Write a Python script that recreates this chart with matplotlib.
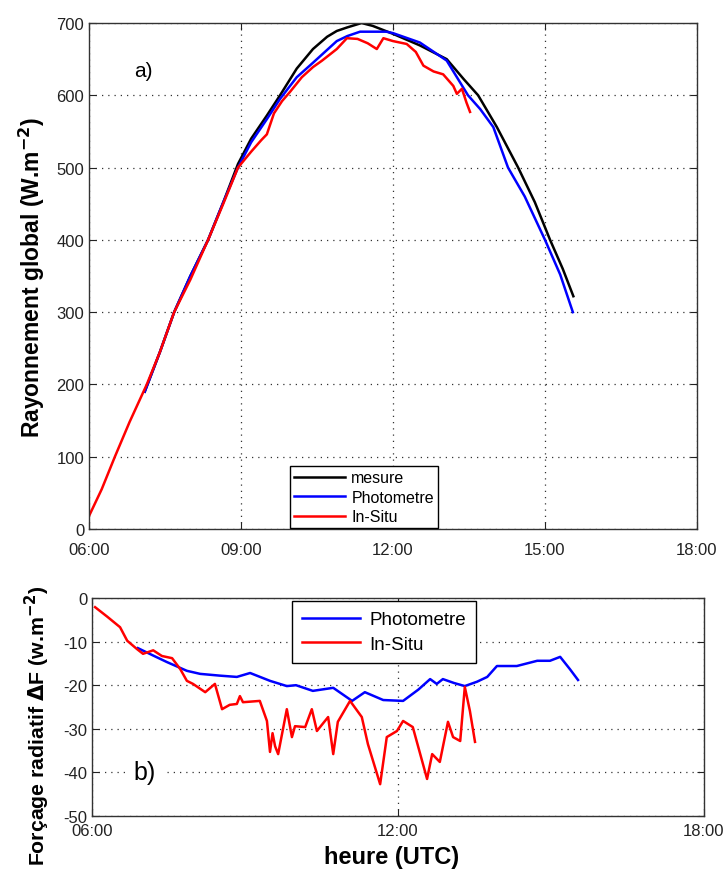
import numpy as np
import matplotlib
matplotlib.use('Agg')
import matplotlib.pyplot as plt

plt.rcParams['font.family'] = ['Liberation Sans', 'DejaVu Sans']
plt.rcParams['axes.unicode_minus'] = False

# ---- panel a) global irradiance (W.m-2), time in decimal hours UTC ----
mes_t = [7.1, 7.4, 7.68, 8.0, 8.35, 8.65, 8.94, 9.2, 9.51, 9.77, 10.1, 10.42, 10.7, 10.89,
         11.1, 11.38, 11.6, 12.0, 12.53, 13.06, 13.4, 13.68, 14.05, 14.47, 14.8, 15.1,
         15.35, 15.56]
mes_v = [190, 245, 300, 350, 400, 452, 505, 540, 572, 600, 637, 664, 681, 689,
         694, 700, 696, 685, 669, 650, 622, 600, 556, 500, 452, 400,
         360, 322]

pho_t = [7.1, 7.4, 7.68, 8.0, 8.35, 8.65, 8.94, 9.2, 9.51, 9.77, 10.1, 10.42, 10.89, 11.1,
         11.35, 11.87, 12.0, 12.53, 13.06, 13.48, 13.72, 13.98, 14.27, 14.6, 15.0, 15.3,
         15.55]
pho_v = [190, 245, 300, 350, 400, 452, 500, 535, 567, 595, 625, 645, 675, 682,
         688, 688, 686, 673, 648, 600, 581, 556, 500, 460, 400, 352,
         300]

ins_t = [6.0, 6.25, 6.51, 6.8, 7.14, 7.4, 7.68, 8.0, 8.35, 8.65, 8.94, 9.2, 9.4, 9.51,
         9.65, 9.81, 9.97, 10.2, 10.42, 10.6, 10.89, 11.09, 11.3, 11.5, 11.68, 11.81,
         12.0, 12.27, 12.45, 12.6, 12.8, 12.99, 13.19, 13.26, 13.36, 13.45, 13.52]
ins_v = [18, 55, 100, 148, 200, 245, 300, 345, 400, 450, 500, 522, 538, 546,
         575, 592, 605, 625, 639, 648, 664, 679, 678, 672, 664, 679,
         675, 671, 660, 641, 633, 629, 613, 602, 609, 590, 577]

# ---- panel b) radiative forcing (W.m-2) ----
phb_t = [6.9, 7.2, 7.47, 7.86, 8.12, 8.5, 8.84, 9.1, 9.49, 9.82, 10.0, 10.33, 10.73, 11.1,
         11.35, 11.71, 12.1, 12.4, 12.63, 12.76, 12.88, 13.1, 13.31, 13.55, 13.75, 13.94,
         14.33, 14.73, 14.98, 15.18, 15.37, 15.53]
phb_v = [-11.5, -13.2, -14.7, -16.7, -17.4, -17.8, -18.1, -17.2, -19.0, -20.2, -20.0, -21.3,
         -20.6, -23.6, -21.6, -23.4, -23.6, -21.0, -18.6, -19.7, -18.6, -19.5, -20.2, -19.2,
         -18.1, -15.6, -15.6, -14.4, -14.4, -13.5, -16.3, -18.8]

inb_t = [6.06, 6.3, 6.55, 6.69, 6.88, 7.0, 7.2, 7.37, 7.57, 7.73, 7.86, 7.98, 8.22, 8.41,
         8.55, 8.7, 8.84, 8.9, 8.96, 9.29, 9.43, 9.49, 9.54, 9.59, 9.65, 9.82, 9.92, 9.98,
         10.18, 10.31, 10.41, 10.63, 10.73, 10.82, 11.06, 11.29, 11.41, 11.65, 11.78,
         11.98, 12.1, 12.29, 12.57, 12.67, 12.82, 12.98, 13.08, 13.22, 13.31, 13.41, 13.51]
inb_v = [-2.1, -4.3, -6.7, -9.8, -11.7, -12.8, -12.0, -13.3, -13.8, -16.3, -19.0, -19.7,
         -21.6, -19.7, -25.5, -24.5, -24.3, -22.5, -23.9, -23.6, -28.2, -35.3, -31.0, -34.0,
         -35.8, -25.5, -31.9, -29.4, -29.6, -25.5, -30.5, -27.3, -35.8, -28.4, -23.6,
         -27.3, -33.5, -42.7, -31.9, -30.5, -28.2, -29.6, -41.5, -35.8, -37.6, -28.4,
         -31.9, -32.8, -20.4, -25.9, -33.0]

top_ticks = [6, 9, 12, 15, 18]
bot_ticks = [6, 12, 18]


def hhmm(h):
    return '%02d:00' % h


def style_axes(ax, xpad):
    ax.tick_params(direction='in', top=True, right=True, labelsize=12, length=5,
                   colors='#222222')
    ax.tick_params(axis='x', pad=xpad)
    ax.grid(True, linestyle=(0, (1, 4)), color='#333333', linewidth=0.9)
    for s in ax.spines.values():
        s.set_linewidth(1.0)
        s.set_color('#333333')


fig = plt.figure(figsize=(7.28, 8.70), dpi=100)

ax1 = fig.add_axes([0.1223, 0.3908, 0.8351, 0.5816])
ax1.plot(mes_t, mes_v, color='black', lw=1.8, label='mesure')
ax1.plot(pho_t, pho_v, color='blue', lw=1.8, label='Photometre')
ax1.plot(ins_t, ins_v, color='red', lw=1.8, label='In-Situ')
ax1.set_xlim(6, 18)
ax1.set_ylim(0, 700)
ax1.set_xticks(top_ticks)
ax1.set_xticklabels([hhmm(h) for h in top_ticks])
ax1.set_yticks(range(0, 701, 100))
style_axes(ax1, 9)
ax1.set_ylabel('Rayonnement global (W.m$^{\\mathbf{-2}}$)', fontsize=16.5, fontweight='bold')
ax1.yaxis.set_label_coords(-0.069, 0.5)
ax1.text(7.07, 634, 'a)', fontsize=15, ha='center', va='center',
         bbox=dict(facecolor='white', edgecolor='none', pad=6))
leg1 = ax1.legend(loc='lower center', bbox_to_anchor=(0.452, 0.0), fontsize=11.5,
                  handlelength=3.2, fancybox=False, edgecolor='black', framealpha=1,
                  borderpad=0.25, labelspacing=0.28, handletextpad=0.4,
                  borderaxespad=0.05)
leg1.get_frame().set_linewidth(1.0)

ax2 = fig.add_axes([0.1264, 0.0609, 0.8406, 0.2506])
ax2.plot(phb_t, phb_v, color='blue', lw=1.8, label='Photometre')
ax2.plot(inb_t, inb_v, color='red', lw=1.8, label='In-Situ')
ax2.set_xlim(6, 18)
ax2.set_ylim(-50, 0)
ax2.set_xticks(bot_ticks)
ax2.set_xticklabels([hhmm(h) for h in bot_ticks])
ax2.set_yticks(range(-50, 1, 10))
style_axes(ax2, 5)
ax2.set_ylabel('Forçage radiatif $\\mathbf{\\Delta}$F (w.m$^{\\mathbf{-2}}$)', fontsize=15.3,
               fontweight='bold')
ax2.yaxis.set_label_coords(-0.065, 0.42)
ax2.set_xlabel('heure (UTC)', fontsize=17, fontweight='bold')
ax2.xaxis.set_label_coords(0.49, -0.135)
ax2.text(7.04, -40, 'b)', fontsize=18, ha='center', va='center',
         bbox=dict(facecolor='white', edgecolor='none', pad=6))
leg2 = ax2.legend(loc='upper center', bbox_to_anchor=(0.477, 1.0), fontsize=13.5,
                  handlelength=3.1, fancybox=False, edgecolor='black', framealpha=1,
                  borderpad=0.55, labelspacing=0.4, handletextpad=0.5,
                  borderaxespad=0.15)
leg2.get_frame().set_linewidth(1.0)

fig.savefig('out.png', dpi=100)
